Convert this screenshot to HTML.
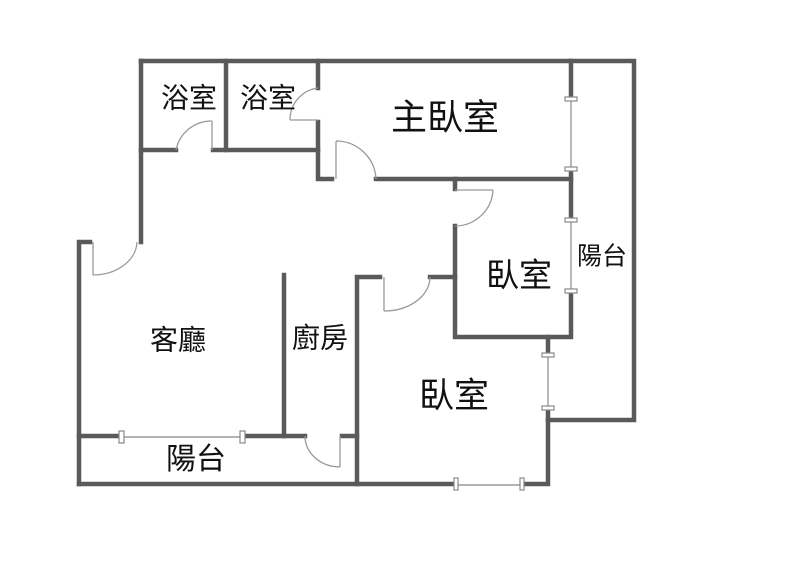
<!DOCTYPE html>
<html><head><meta charset="utf-8"><style>
html,body{margin:0;padding:0;background:#fff;}
svg{display:block}
text{font-family:"Liberation Sans","Noto Sans CJK TC",sans-serif;fill:#111;text-anchor:middle;dominant-baseline:middle}
</style></head><body>
<svg width="800" height="577" viewBox="0 0 800 577" xmlns="http://www.w3.org/2000/svg">
<g stroke="#5a5a5a" stroke-width="4.5" fill="none" stroke-linecap="square">
<path d="M141 61 H634 V420 H548"/>
<path d="M141 61 V242"/>
<path d="M141 150 H176 M213 150 H318"/>
<path d="M226 61 V150"/>
<path d="M318 61 V88 M318 122 V179 H332 M376 179 H571"/>
<path d="M571 61 V99 M571 169 V220 M571 291 V337 H455 V226 M455 179 V189"/>
<path d="M548 337 V355 M548 408 V484 H522 M456 484 H357 V277 H380 M430 277 H455"/>
<path d="M79 484 H357"/>
<path d="M79 242 V484 M79 242 H90"/>
<path d="M284 275 V436"/>
<path d="M79 436 H121 M242 436 H305 M342 436 H357"/>
</g>
<g stroke="#888" stroke-width="1.2" fill="#fff">
<line x1="571" y1="99" x2="571" y2="169"/>
<line x1="571" y1="220" x2="571" y2="291"/>
<line x1="548" y1="355" x2="548" y2="408"/>
<line x1="456" y1="485" x2="522" y2="485"/>
<line x1="121" y1="437" x2="242" y2="437"/>
<rect x="565" y="97" width="12" height="4"/><rect x="565" y="167" width="12" height="4"/>
<rect x="565" y="218" width="12" height="4"/><rect x="565" y="289" width="12" height="4"/>
<rect x="542" y="353" width="12" height="4"/><rect x="542" y="406" width="12" height="4"/>
<rect x="454" y="478" width="4" height="12"/><rect x="520" y="478" width="4" height="12"/>
<rect x="119" y="431" width="5" height="12"/><rect x="240" y="431" width="5" height="12"/>
</g>
<g stroke="#999" stroke-width="1.3" fill="none">
<path d="M212 150 V121 M176 150 A36 36 0 0 1 212 121"/>
<path d="M318 120 H290 M318 88 A32 32 0 0 0 290 120"/>
<path d="M336 179 V141 M376 179 A40 40 0 0 0 336 141"/>
<path d="M455 190 H493 M493 190 A38 38 0 0 1 455 226"/>
<path d="M384 277 V311 M430 277 A46 34 0 0 1 384 311"/>
<path d="M340 436 V467 M305 436 A35 31 0 0 0 340 467"/>
<path d="M93 242 V275 M137 242 A44 34 0 0 1 93 275"/>
</g>
<text x="189" y="100" font-size="28">浴室</text>
<text x="268" y="100" font-size="28">浴室</text>
<text x="445" y="120" font-size="36">主臥室</text>
<text x="602" y="258" font-size="25">陽台</text>
<text x="519" y="278" font-size="33">臥室</text>
<text x="178" y="342" font-size="28">客廳</text>
<text x="320" y="340" font-size="28">廚房</text>
<text x="454" y="398" font-size="35">臥室</text>
<text x="196" y="461" font-size="30">陽台</text>
</svg>
</body></html>
